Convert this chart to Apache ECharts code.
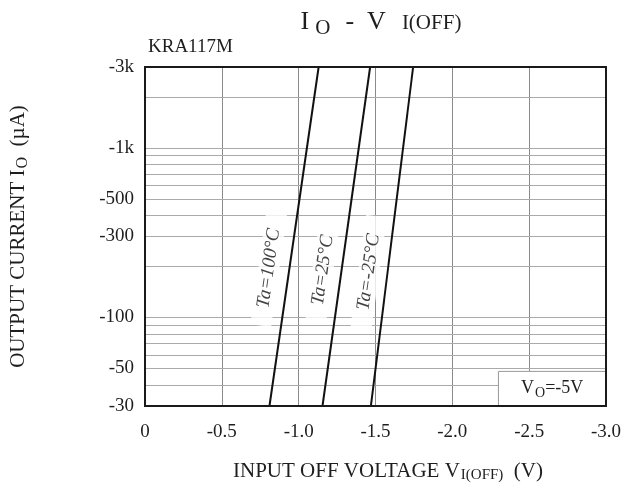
<!DOCTYPE html>
<html><head><meta charset="utf-8">
<script src="https://cdn.jsdelivr.net/npm/echarts@6/dist/echarts.min.js"></script>
<style>html,body{margin:0;padding:0;background:#fff}#c{width:634px;height:498px}</style>
</head><body><div id="c"></div>
<script>
// ---- data ----
const seriesNames = ['Ta=100°C', 'Ta=25°C', 'Ta=-25°C'];
const currentEnds = [30, 3000];               // |Io| in µA at bottom / top of the plot
const vAtLow = [-0.81, -1.155, -1.47];         // V_I(OFF) at Io = -30 µA
const vAtHigh = [-1.13, -1.465, -1.745];       // V_I(OFF) at Io = -3k µA
const xTickValues = [0, -0.5, -1.0, -1.5, -2.0, -2.5, -3.0];
const yLabelValues = [30, 50, 100, 300, 500, 1000, 3000];
const yLabelTexts = ['-30', '-50', '-100', '-300', '-500', '-1k', '-3k'];
const yGridValues = [40, 50, 60, 70, 80, 90, 100, 200, 300, 400, 500, 600, 700, 800, 900, 1000, 2000];
const labelV = [-0.806, -1.157, -1.456];       // series label anchor (V)
const labelI = [195, 190, 185];                // series label anchor (|µA|)
const noteBoxV = [-2.3, -3.0];
const noteBoxI = [30, 48];

const FONT = 'Liberation Serif';
const TXT = '#1e1e1e';

const allY = Array.from(new Set(yGridValues.concat(yLabelValues))).sort((a, b) => a - b);
const gridLineData = allY.map(v => {
  const li = yLabelValues.indexOf(v);
  const isGrid = yGridValues.indexOf(v) >= 0;
  return [
    {
      coord: [0, v],
      lineStyle: isGrid ? undefined : { color: 'rgba(0,0,0,0)' },
      label: li >= 0 ? { show: true, formatter: yLabelTexts[li] } : { show: false }
    },
    { coord: [-3, v] }
  ];
});

const lineSeries = seriesNames.map((n, i) => ({
  name: n,
  type: 'line',
  z: 8,
  symbol: 'none',
  animation: false,
  lineStyle: { color: '#111', width: 2 },
  data: [[vAtLow[i], currentEnds[0]], [vAtHigh[i], currentEnds[1]]]
}));

const option = {
  animation: false,
  backgroundColor: '#fff',
  title: [
    {
      left: 381, top: 6, textAlign: 'center', padding: 0,
      text: '{b|I}{o|O}{b|  -  V}{s|I(OFF)}',
      textStyle: {
        fontWeight: 'normal',
        rich: {
          b: { fontFamily: FONT, fontSize: 26, fontWeight: 'normal', color: TXT },
          o: { fontFamily: FONT, fontSize: 21, fontWeight: 'normal', color: TXT, padding: [12, 2, 0, 6] },
          s: { fontFamily: FONT, fontSize: 21, fontWeight: 'normal', color: TXT, padding: [2, 0, 0, 16] }
        }
      }
    },
    {
      left: 148, top: 38, padding: 0, text: 'KRA117M',
      textStyle: { fontFamily: FONT, fontSize: 19, fontWeight: 'normal', color: TXT }
    },
    {
      left: 388, top: 459, textAlign: 'center', padding: 0,
      text: '{b|INPUT OFF VOLTAGE V}{s|I(OFF)}{b|  (V)}',
      textStyle: {
        fontWeight: 'normal',
        rich: {
          b: { fontFamily: FONT, fontSize: 21, fontWeight: 'normal', color: TXT },
          s: { fontFamily: FONT, fontSize: 15, fontWeight: 'normal', color: TXT, padding: [9, 0, 0, 1] }
        }
      }
    }
  ],
  grid: {
    left: 144, right: 28, top: 67, bottom: 92,
    show: true, borderColor: '#1a1a1a', borderWidth: 2, z: 10
  },
  xAxis: {
    type: 'value', min: -3, max: 0, interval: 0.5, inverse: true,
    axisLine: { show: false }, axisTick: { show: false },
    splitLine: { show: true, lineStyle: { color: '#8a8a8a', width: 1 } },
    axisLabel: {
      margin: 17, fontFamily: FONT, fontSize: 19, color: TXT,
      formatter: v => {
        const t = xTickValues.find(x => Math.abs(x - v) < 1e-9);
        return t === 0 ? '0' : t.toFixed(1);
      }
    }
  },
  yAxis: {
    type: 'log', logBase: 10, min: 30, max: 3000,
    axisLine: { show: false }, axisTick: { show: false },
    axisLabel: { show: false }, splitLine: { show: false }, minorSplitLine: { show: false },
    name: '{b|OUTPUT CURRENT I}{s|O}{b|  (µA)}',
    nameLocation: 'middle', nameRotate: 90, nameGap: 114,
    nameTextStyle: {
      rich: {
        b: { fontFamily: FONT, fontSize: 21, color: TXT },
        s: { fontFamily: FONT, fontSize: 16, color: TXT, padding: [9, 0, 0, 1] }
      }
    }
  },
  series: [
    {
      type: 'line', z: 1, data: [], silent: true,
      markLine: {
        z: 1,
        silent: true, symbol: ['none', 'none'], animation: false,
        lineStyle: { color: '#aaaaaa', width: 1, type: 'solid' },
        label: {
          position: 'start', distance: 11,
          fontFamily: FONT, fontSize: 19, color: TXT
        },
        emphasis: { disabled: true },
        data: gridLineData
      }
    },
    {
      type: 'line', z: 3, data: [], silent: true,
      markArea: {
        z: 3,
        silent: true,
        itemStyle: { color: '#fff', borderColor: '#999', borderWidth: 1 },
        label: {
          show: true, position: 'inside',
          formatter: '{b|V}{s|O}{b|=-5V}',
          rich: {
            b: { fontFamily: FONT, fontSize: 18, color: TXT },
            s: { fontFamily: FONT, fontSize: 14, color: TXT, padding: [9, 0, 0, 1] }
          }
        },
        emphasis: { disabled: true },
        data: [[{ coord: [noteBoxV[0], noteBoxI[1]] }, { coord: [noteBoxV[1], noteBoxI[0]] }]]
      }
    },
    {
      type: 'scatter', z: 5, silent: true, symbolSize: 0,
      itemStyle: { color: '#fff' },
      data: seriesNames.map((n, i) => ({ value: [labelV[i], labelI[i]], name: n })),
      label: {
        show: true, position: 'inside', rotate: 82,
        formatter: p => p.name,
        fontFamily: FONT, fontStyle: 'italic', fontSize: 19, color: '#111',
        backgroundColor: '#fff', padding: [1, 18]
      },
      labelLayout: { hideOverlap: false },
      emphasis: { disabled: true }
    }
  ].concat(lineSeries)
};

const chart = echarts.init(document.getElementById('c'), null, { renderer: 'canvas' });
chart.setOption(option);
</script>
</body></html>
